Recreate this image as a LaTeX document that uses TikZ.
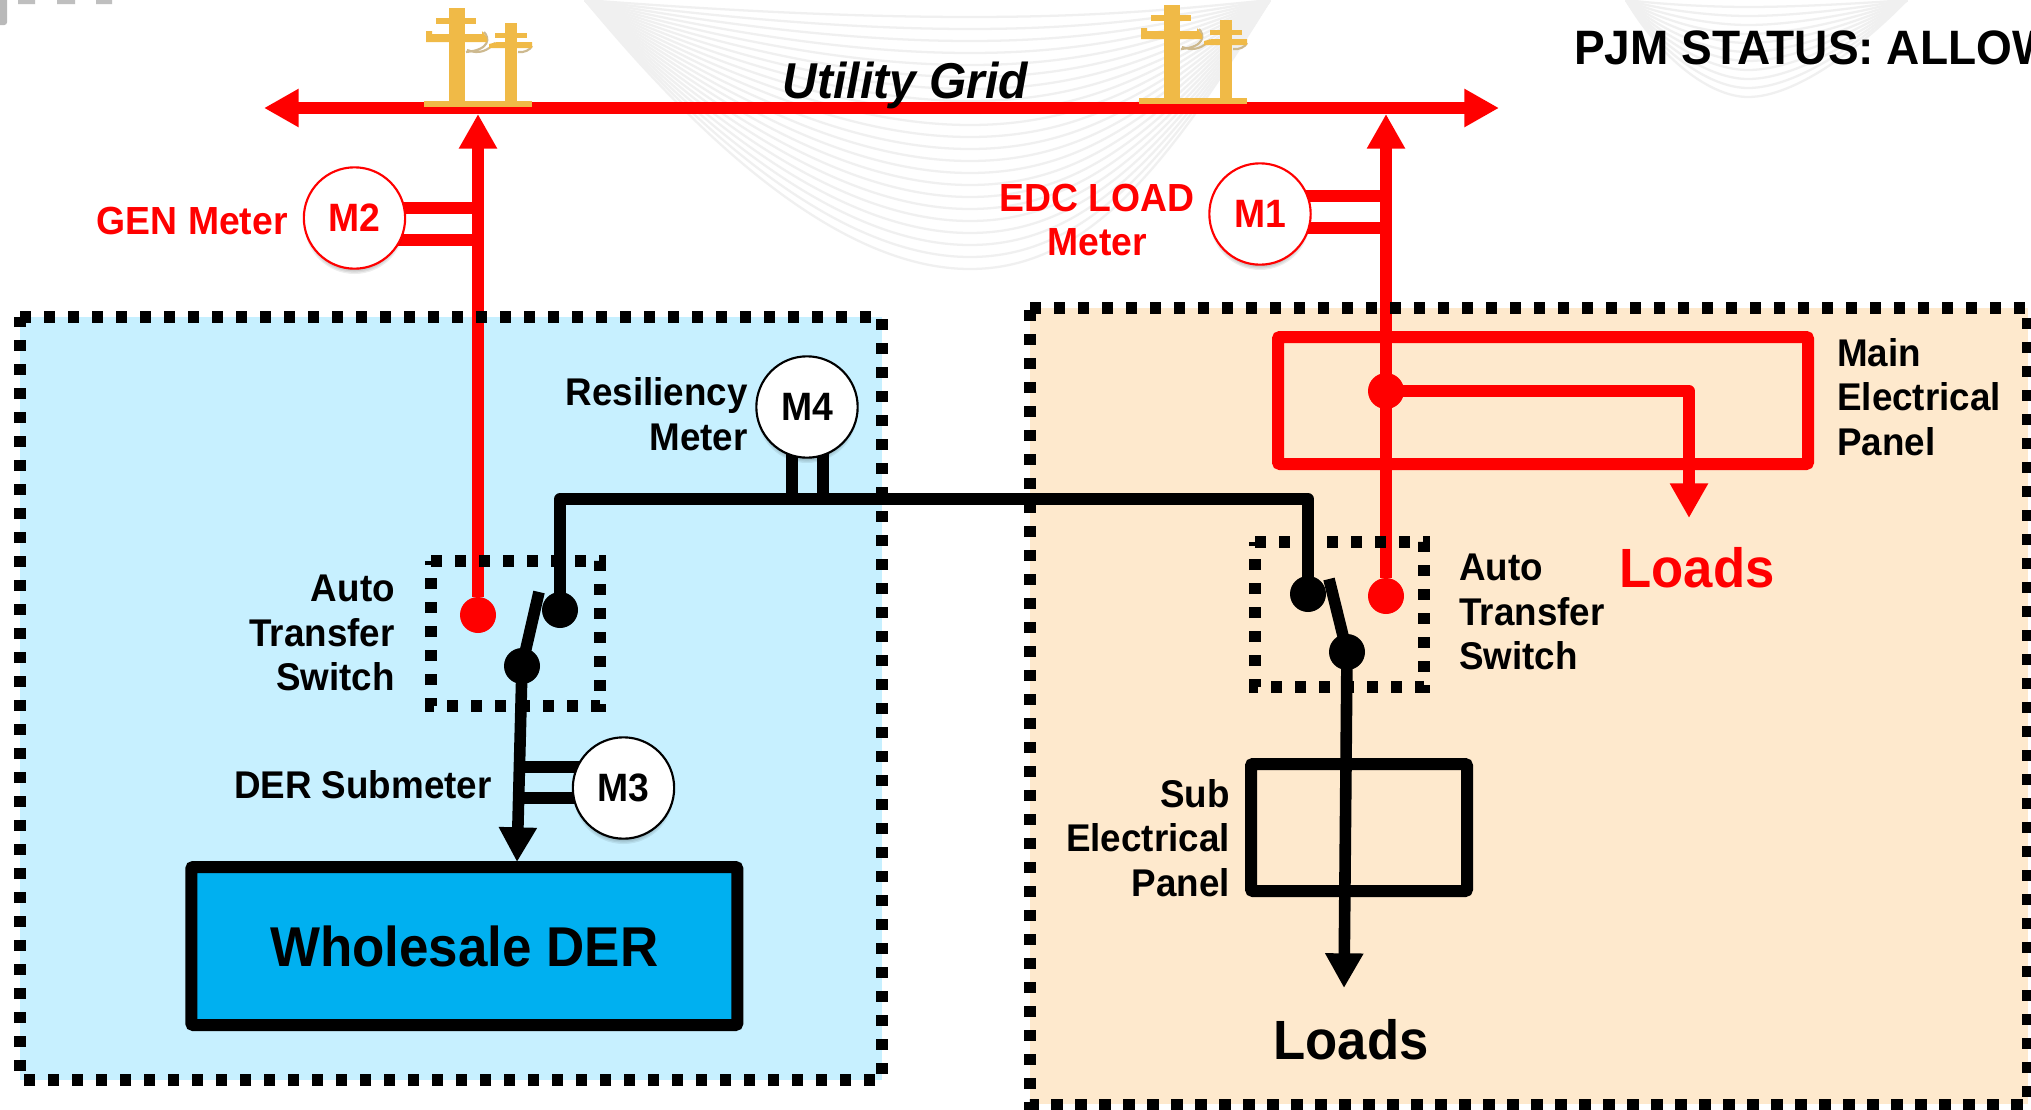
\documentclass[tikz,border=0pt]{standalone}
\usepackage{fontspec}
\setmainfont{Liberation Sans}
\usetikzlibrary{arrows.meta,backgrounds}
\pgfdeclarelayer{zones}\pgfdeclarelayer{wires}
\pgfsetlayers{zones,wires,main}
\definecolor{gridred}{HTML}{FF0000}
\definecolor{derblue}{HTML}{00B0F0}
\definecolor{zoneblue}{HTML}{C7F0FF}
\definecolor{zoneorange}{HTML}{FEE9CD}
\definecolor{polegold}{HTML}{F0BA47}
\definecolor{polewire}{HTML}{CDB98F}
\definecolor{swoosh}{HTML}{F0F0F0}
\newcommand{\fsz}[1]{\fontsize{#1}{32pt}\selectfont\bfseries}
\newcommand{\tallglyph}[1]{\scalebox{1}[1.06]{#1}}
\newcommand{\lowered}[2]{\raisebox{-#1}{\tallglyph{#2}}}
\tikzset{
  x=0.75pt,y=-0.75pt,
  wire/.style={line width=8.7pt,line join=round},
  redwire/.style={wire,draw=gridred},
  blackwire/.style={wire,draw=black},
  headtip/.style={-{Triangle[length=26pt,width=27pt]}},
  dottedzone/.style={draw=black,line width=8.6pt,dash pattern=on 8.6pt off 9.4pt},
  dotnode/.style={circle,inner sep=0pt,minimum size=27pt},
  meter/.style={circle,draw=#1,fill=white,line width=1.6pt,inner sep=0pt,minimum size=76pt,text=#1,font=\fsz{28pt}},
  panel/.style={rectangle,draw=#1,line width=9pt,inner sep=0pt,rounded corners=1.5pt},
  lbl/.style={inner sep=0pt,font=\fsz{27.6pt},text=black,yscale=1.05,transform shape},
  pole/.pic={
    \draw[polewire,line width=1.6pt] (484,32) .. controls (490,38) and (490,50) .. (466,52)
      (467,50) .. controls (480,55) and (488,50) .. (495,43)
      (518,52) .. controls (524,53) and (530,50) .. (532,46);
    \fill[polegold] (424,101) rectangle (532,107);
    \fill[polegold] (449,8) rectangle (465,101);
    \fill[polegold] (436,18) rectangle (476,24);
    \fill[polegold] (426,31) -- (432,31) -- (432,34) -- (482,34) -- (482,31) -- (487,38) -- (487,42) -- (426,42) -- cycle;
    \fill[polegold] (505,23) rectangle (517,101);
    \fill[polegold] (495,33) rectangle (527,38);
    \fill[polegold] (489,44) -- (497,42) -- (532,42) -- (532,48) -- (489,48) -- cycle;
  }
}
\newcommand{\metershadow}[2]{%
  \foreach \rr in {37.5,36.5,35.5,34.5,33.5}{\fill[black,opacity=0.07] (#1,#2) ++(0,6) circle[radius=\rr pt];}}
\begin{document}
\begin{tikzpicture}
\useasboundingbox (0,0) rectangle (2031,1110);
\begin{pgfonlayer}{zones}
  \fill[white] (0,0) rectangle (2031,1110);
  \foreach \yb in {269,257,245,233,221,209,197,185,173,161,149,137,125,113,101,89,77,65,53,41,29,17}{
    \draw[swoosh,line width=1.7pt] (585,0) .. controls (700,{\yb*0.52}) and (840,\yb) .. (970,\yb)
       .. controls (1090,\yb) and (1170,{\yb*0.6}) .. (1270,0);
  }
  \foreach \yb in {97,88,79,70,61,52,43,34,25,16,7}{
    \draw[swoosh,line width=1.7pt] (1626,0) .. controls (1660,{\yb*0.6}) and (1710,\yb) .. (1748,\yb)
       .. controls (1795,\yb) and (1860,{\yb*0.5}) .. (1907,0);
  }
  \fill[gray!55,rounded corners=2pt] (-3,-3) rectangle (7,25);
  \fill[gray!50] (18,0) rectangle (35,4) (57,0) rectangle (75,4) (96,0) rectangle (112,4);
  \fill[zoneblue] (20,317) rectangle (882,1080);
  \fill[zoneorange] (1030,308) rectangle (2028,1104);
\end{pgfonlayer}

\coordinate (gridL) at (264,108);
\coordinate (gridR) at (1499,108);
\coordinate (inL) at (478,114);
\coordinate (inR) at (1386,114);
\coordinate (m2hi) at (478,208);
\coordinate (m2lo) at (478,240);
\coordinate (m1hi) at (1386,196);
\coordinate (m1lo) at (1386,228);
\coordinate (busL) at (560,499);
\coordinate (busR) at (1308,499);
\coordinate (m4a) at (792,499);
\coordinate (m4b) at (823,499);
\coordinate (m3hi) at (521,767);
\coordinate (m3lo) at (520,798);
\coordinate (derIn) at (517,862);
\coordinate (loadsRedTip) at (1689,518);
\coordinate (loadsRedCorner) at (1689,391);
\coordinate (loadsTip) at (1344,988);
\coordinate (leverL) at (539,592);
\coordinate (leverR) at (1329,579);

\draw[dottedzone] (20,317) -- (882,317) -- (882,1080) -- (20,1080) -- cycle;
\draw[dottedzone] (1030,308) -- (2028,308) -- (2028,1104.5) -- (1030,1104.5) -- cycle;

\node[meter=gridred] (M2) at (354.5,218) {\lowered{1.5pt}{M2}};
\node[meter=gridred] (M1) at (1260,214) {\lowered{1.5pt}{M1}};
\node[meter=black] (M4) at (807,407) {\lowered{1pt}{M4}};
\node[meter=black] (M3) at (623.5,788) {\lowered{1pt}{M3}};

\node[dotnode,fill=gridred] (redL) at (478,615) {};
\node[dotnode,fill=gridred] (redR) at (1386,596) {};
\node[dotnode,fill=gridred] (tap) at (1386,391) {};
\node[dotnode,fill=black] (contactL) at (560,610) {};
\node[dotnode,fill=black] (pivotL) at (522,666) {};
\node[dotnode,fill=black] (contactR) at (1308,594) {};
\node[dotnode,fill=black] (pivotR) at (1347,652) {};

\node[panel=gridred,minimum width=397.5pt,minimum height=95.25pt] (mainpanel) at (1543,400.5) {};
\node[panel=black,minimum width=162pt,minimum height=95.25pt] (subpanel) at (1359,827.5) {};
\node[panel=black,fill=derblue,minimum width=409.5pt,minimum height=118.5pt,font=\fsz{39.7pt}] (der) at (464.3,946) {\lowered{2pt}{Wholesale DER}};

\draw[dottedzone] (431,561) -- (600,561) -- (600,706) -- (431,706) -- cycle;
\draw[dottedzone] (1255,542) -- (1424,542) -- (1424,687) -- (1255,687) -- cycle;

\path (0,0) pic {pole};
\path (715,-3) pic {pole};

\begin{pgfonlayer}{wires}
  \draw[redwire,line width=9pt,{Triangle[length=26pt,width=27pt]}-{Triangle[length=26pt,width=27pt]}] (gridL) -- (gridR);
  \draw[redwire,headtip] (redL) -- (inL);
  \draw[redwire,headtip] (redR) -- (inR);
  \draw[redwire] (m2hi) -- (M2.center |- m2hi);
  \draw[redwire] (m2lo) -- (M2.center |- m2lo);
  \draw[redwire] (m1hi) -- (M1.center |- m1hi);
  \draw[redwire] (m1lo) -- (M1.center |- m1lo);
  \draw[redwire,headtip] (tap.center) -- (loadsRedCorner) -- (loadsRedTip);
  \draw[blackwire] (contactL.center) -- (busL) -- (busR) -- (contactR.center);
  \draw[blackwire] (m4a) -- (M4.center -| m4a);
  \draw[blackwire] (m4b) -- (M4.center -| m4b);
  \draw[blackwire] (pivotL.center) -- (leverL);
  \draw[blackwire] (pivotR.center) -- (leverR);
  \draw[blackwire,headtip] (pivotL.center) -- (derIn);
  \draw[blackwire] (m3hi) -- (M3.center |- m3hi);
  \draw[blackwire] (m3lo) -- (M3.center |- m3lo);
  \draw[blackwire,headtip] (pivotR.center) -- (loadsTip);
  \metershadow{354.5}{218}
  \metershadow{1260}{214}
  \metershadow{807}{407}
  \metershadow{623.5}{788}
\end{pgfonlayer}

\node[lbl,font=\fsz{36pt}\itshape] (utility) at (905.5,85) {Utility Grid};
\node[lbl,anchor=west,font=\fsz{34.5pt}] (status) at (1574,48) {PJM STATUS: ALLOW};
\node[lbl,anchor=east,text=gridred,font=\fsz{28pt}] (genlbl) at (288,221) {GEN Meter};
\node[lbl,text=gridred,align=center,font=\fsz{28pt}] (edclbl) at (1097,220) {EDC LOAD\\ Meter};
\node[lbl,anchor=east,align=right] (reslbl) at (748,414) {Resiliency\\ Meter};
\node[lbl,anchor=east,align=right] (atsL) at (395,633) {Auto\\ Transfer\\ Switch};
\node[lbl,anchor=west,align=left] (atsR) at (1459,612) {Auto\\ Transfer\\ Switch};
\node[lbl,anchor=east] (dersub) at (492,785) {DER Submeter};
\node[lbl,anchor=west,align=left] (mainlbl) at (1837,397) {Main\\ Electrical\\ Panel};
\node[lbl,anchor=east,align=right] (sublbl) at (1230,838) {Sub\\ Electrical\\ Panel};
\node[lbl,text=gridred,font=\fsz{39.5pt}] (loadsRed) at (1697,568) {Loads};
\node[lbl,font=\fsz{39.5pt}] (loadsBlack) at (1351,1040) {Loads};
\end{tikzpicture}
\end{document}
